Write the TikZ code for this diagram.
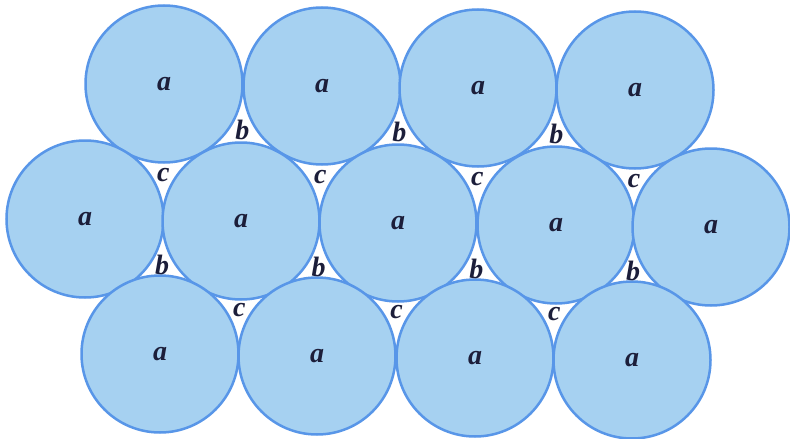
\documentclass[tikz,border=0pt]{standalone}
\usepackage{fontspec}
\setmainfont{Liberation Serif}
\usetikzlibrary{calc}
\definecolor{ballfill}{RGB}{166,209,241}
\definecolor{ballline}{RGB}{88,150,232}
\definecolor{labelink}{RGB}{28,30,58}
\begin{document}
\begin{tikzpicture}[x=1pt,y=-1pt,
  ball/.style={circle,draw=ballline,fill=ballfill,line width=2.5pt,minimum size=157pt,inner sep=0pt,
    font=\fontsize{28}{30}\selectfont\bfseries\itshape,text=labelink},
  gaplabel/.style={font=\fontsize{28}{30}\selectfont\bfseries\itshape,text=labelink,inner sep=0pt}]
\useasboundingbox[fill=white] (0,0) rectangle (790,439);
% top row
\node[ball] (t1) at (164,84) {a};
\node[ball] (t2) at (322,86) {a};
\node[ball] (t3) at (478,88) {a};
\node[ball] (t4) at (635,90) {a};
% middle row
\node[ball] (m1) at (85,219) {a};
\node[ball] (m2) at (241,221) {a};
\node[ball] (m3) at (398,223) {a};
\node[ball] (m4) at (556,225) {a};
\node[ball] (m5) at (711,227) {a};
% bottom row
\node[ball] (b1) at (160,354) {a};
\node[ball] (b2) at (317,356) {a};
\node[ball] (b3) at (475,358) {a};
\node[ball] (b4) at (632,360) {a};
% upper gaps
\node[gaplabel] (g1) at ($0.3333*(t1)+0.3333*(t2)+0.3334*(m2)$) {b};
\node[gaplabel] (g2) at ($0.3333*(t2)+0.3333*(t3)+0.3334*(m3)$) {b};
\node[gaplabel] (g3) at ($0.3333*(t3)+0.3333*(t4)+0.3334*(m4)$) {b};
\node[gaplabel] (g4) at ($0.3333*(m1)+0.3333*(m2)+0.3334*(t1)$) {c};
\node[gaplabel] (g5) at ($0.3333*(m2)+0.3333*(m3)+0.3334*(t2)$) {c};
\node[gaplabel] (g6) at ($0.3333*(m3)+0.3333*(m4)+0.3334*(t3)$) {c};
\node[gaplabel] (g7) at ($0.3333*(m4)+0.3333*(m5)+0.3334*(t4)$) {c};
% lower gaps
\node[gaplabel] (h1) at ($0.3333*(m1)+0.3333*(m2)+0.3334*(b1)$) {b};
\node[gaplabel] (h2) at ($0.3333*(m2)+0.3333*(m3)+0.3334*(b2)$) {b};
\node[gaplabel] (h3) at ($0.3333*(m3)+0.3333*(m4)+0.3334*(b3)$) {b};
\node[gaplabel] (h4) at ($0.3333*(m4)+0.3333*(m5)+0.3334*(b4)$) {b};
\node[gaplabel] (h5) at ($0.3333*(b1)+0.3333*(b2)+0.3334*(m2)$) {c};
\node[gaplabel] (h6) at ($0.3333*(b2)+0.3333*(b3)+0.3334*(m3)$) {c};
\node[gaplabel] (h7) at ($0.3333*(b3)+0.3333*(b4)+0.3334*(m4)$) {c};
\end{tikzpicture}
\end{document}
